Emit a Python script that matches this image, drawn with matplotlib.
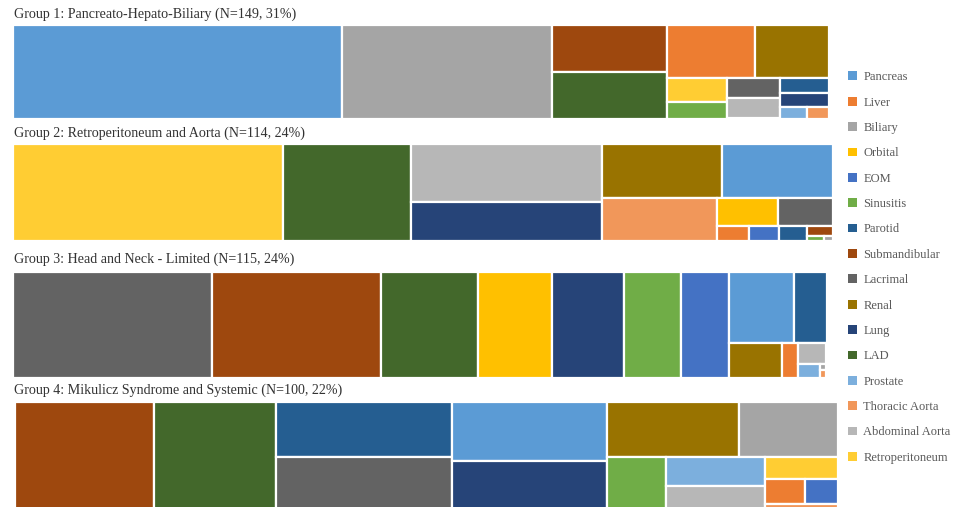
import matplotlib.pyplot as plt
from matplotlib.patches import Rectangle, Patch

# organ categories (legend order) and Office-style colours
organs = ["Pancreas", "Liver", "Biliary", "Orbital", "EOM", "Sinusitis", "Parotid",
          "Submandibular", "Lacrimal", "Renal", "Lung", "LAD", "Prostate",
          "Thoracic Aorta", "Abdominal Aorta", "Retroperitoneum"]
organ_colors = ["#5B9BD5", "#ED7D31", "#A5A5A5", "#FFC000", "#4472C4", "#70AD47", "#255E91",
                "#9E480E", "#636363", "#997300", "#264478", "#43682B", "#7CAFDD",
                "#F1975A", "#B7B7B7", "#FFCD33"]
color_of = dict(zip(organs, organ_colors))

titles = ["Group 1: Pancreato-Hepato-Biliary (N=149, 31%)",
          "Group 2: Retroperitoneum and Aorta (N=114, 24%)",
          "Group 3: Head and Neck - Limited (N=115, 24%)",
          "Group 4: Mikulicz Syndrome and Systemic (N=100, 22%)"]

# share of organ involvement within each group (%)
g1_names = ["Pancreas", "Biliary", "Submandibular", "LAD", "Liver", "Renal", "Retroperitoneum",
            "Sinusitis", "Lacrimal", "Abdominal Aorta", "Parotid", "Lung", "Prostate", "Thoracic Aorta"]
g1_values = [40.36, 25.68, 7.0, 7.1, 6.11, 5.14, 1.90, 1.33, 1.42, 1.42, 0.94, 0.91, 0.41, 0.34]

g2_names = ["Retroperitoneum", "LAD", "Abdominal Aorta", "Lung", "Renal", "Pancreas", "Thoracic Aorta",
            "Orbital", "Lacrimal", "Liver", "EOM", "Parotid", "Submandibular", "Sinusitis", "Biliary"]
g2_values = [32.9, 15.7, 14.0, 9.3, 8.2, 7.5, 6.2, 2.15, 1.9, 0.59, 0.57, 0.52, 0.30, 0.11, 0.06]

g3_names = ["Lacrimal", "Submandibular", "LAD", "Orbital", "Lung", "Sinusitis", "EOM", "Pancreas",
            "Parotid", "Renal", "Liver", "Abdominal Aorta", "Prostate", "Biliary", "Thoracic Aorta"]
g3_values = [24.5, 20.75, 11.88, 9.11, 8.87, 7.02, 5.91, 5.41, 2.67, 2.09, 0.64, 0.70, 0.34, 0.04, 0.06]

g4_names = ["Submandibular", "LAD", "Parotid", "Lacrimal", "Pancreas", "Lung", "Renal", "Biliary",
            "Sinusitis", "Prostate", "Abdominal Aorta", "Retroperitoneum", "Liver", "EOM", "Thoracic Aorta"]
g4_values = [16.92, 14.85, 10.7, 10.7, 10.08, 8.73, 7.92, 5.91, 3.60, 3.14, 2.92, 1.75, 1.13, 0.90, 0.68]

# nesting of the treemap tiles: 'h' = side by side, 'v' = stacked
g1_tree = ("h", ["Pancreas", "Biliary", ("v", ["Submandibular", "LAD"]),
                 ("v", [("h", ["Liver", "Renal"]),
                        ("h", [("v", ["Retroperitoneum", "Sinusitis"]),
                               ("v", ["Lacrimal", "Abdominal Aorta"]),
                               ("v", ["Parotid", "Lung", ("h", ["Prostate", "Thoracic Aorta"])])])])])
g2_tree = ("h", ["Retroperitoneum", "LAD", ("v", ["Abdominal Aorta", "Lung"]),
                 ("v", [("h", ["Renal", "Pancreas"]),
                        ("h", ["Thoracic Aorta",
                               ("v", [("h", ["Orbital", "Lacrimal"]),
                                      ("h", ["Liver", "EOM", "Parotid",
                                             ("v", ["Submandibular", ("h", ["Sinusitis", "Biliary"])])])])])])])
g3_tree = ("h", ["Lacrimal", "Submandibular", "LAD", "Orbital", "Lung", "Sinusitis", "EOM",
                 ("v", [("h", ["Pancreas", "Parotid"]),
                        ("h", ["Renal", "Liver",
                               ("v", ["Abdominal Aorta",
                                      ("h", ["Prostate", ("v", ["Biliary", "Thoracic Aorta"])])])])])])
g4_tree = ("h", ["Submandibular", "LAD", ("v", ["Parotid", "Lacrimal"]), ("v", ["Pancreas", "Lung"]),
                 ("v", [("h", ["Renal", "Biliary"]),
                        ("h", ["Sinusitis", ("v", ["Prostate", "Abdominal Aorta"]),
                               ("v", ["Retroperitoneum", ("h", ["Liver", "EOM"]), "Thoracic Aorta"])])])])

groups = [(g1_names, g1_values, g1_tree), (g2_names, g2_values, g2_tree),
          (g3_names, g3_values, g3_tree), (g4_names, g4_values, g4_tree)]


def node_total(node, vals):
    if isinstance(node, str):
        return vals[node]
    return sum(node_total(k, vals) for k in node[1])


def layout(node, x, y, w, h, vals, out):
    if isinstance(node, str):
        out.append((node, x, y, w, h))
        return
    direction, kids = node
    totals = [node_total(k, vals) for k in kids]
    s = sum(totals)
    pos = 0.0
    for k, t in zip(kids, totals):
        f = t / s
        if direction == "h":
            layout(k, x + pos * w, y, w * f, h, vals, out)
        else:
            layout(k, x, y + pos * h, w, h * f, vals, out)
        pos += f


W, H = 961, 507
fig = plt.figure(figsize=(W / 100, H / 100), dpi=100)
plt.rcParams["font.family"] = ["Liberation Serif", "DejaVu Serif"]

# pixel boxes of each group panel (left, top, right, bottom) and title centre
boxes = [(13, 25.5, 829, 118.5), (13, 144, 832.5, 241), (13, 271.5, 826.5, 377.5), (14.5, 401.5, 837.5, 513)]
title_y = [14, 133, 259, 390]

for (names, values, tree), (l, t, r, b), title, ty in zip(groups, boxes, titles, title_y):
    ax = fig.add_axes([l / W, 1 - b / H, (r - l) / W, (b - t) / H])
    ax.set_xlim(0, 1)
    ax.set_ylim(1, 0)
    ax.axis("off")
    tiles = []
    layout(tree, 0, 0, 1, 1, dict(zip(names, values)), tiles)
    for name, x, y, w, h in tiles:
        ax.add_patch(Rectangle((x, y), w, h, facecolor=color_of[name],
                               edgecolor="white", linewidth=1.6, clip_on=False))
    fig.text(14 / W, 1 - ty / H, title, fontsize=10.1, color="#333333", va="center", ha="left")

handles = [Patch(facecolor=c, edgecolor="none", label=n) for n, c in zip(organs, organ_colors)]
fig.legend(handles=handles, loc="upper left", bbox_to_anchor=(837 / W, 1 - 60 / H),
           frameon=False, fontsize=9, handlelength=0.7, handleheight=0.7,
           handletextpad=0.5, labelspacing=1.07, labelcolor="#595959")

fig.savefig("out.png", dpi=100)
